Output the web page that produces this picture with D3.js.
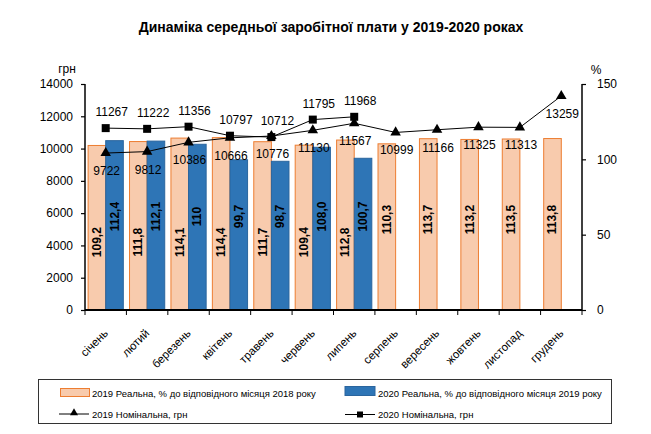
<!DOCTYPE html>
<html><head><meta charset="utf-8">
<script src="https://cdn.jsdelivr.net/npm/d3@7"></script>
<style>
html,body{margin:0;padding:0;background:#fff;}
svg{display:block;font-family:"Liberation Sans",Arial,sans-serif;}
</style></head>
<body><svg id="c" width="651" height="434"></svg>
<script>
const months = ["січень","лютий","березень","квітень","травень","червень","липень","серпень","вересень","жовтень","листопад","грудень"];
const real2019 = [109.2,111.8,114.1,114.4,111.7,109.4,112.8,110.3,113.7,113.2,113.5,113.8];
const real2019Labels = ["109,2","111,8","114,1","114,4","111,7","109,4","112,8","110,3","113,7","113,2","113,5","113,8"];
const real2020 = [112.4,112.1,110,99.7,98.7,108.0,100.7];
const real2020Labels = ["112,4","112,1","110","99,7","98,7","108,0","100,7"];
const nominal2019 = [9722,9812,10386,10666,10776,11130,11567,10999,11166,11325,11313,13259];
const nominal2020 = [11267,11222,11356,10797,10712,11795,11968];
const leftTicks = [0,2000,4000,6000,8000,10000,12000,14000];
const rightTicks = [0,50,100,150];
const title = "Динаміка середньої заробітної плати у 2019-2020 роках";
const legendLabels = ["2019 Реальна, % до відповідного місяця 2018 року","2020 Реальна, % до відповідного місяця 2019 року","2019 Номінальна, грн","2020 Номінальна, грн"];

const svg = d3.select("#c");
const L = 85, R = 582, T = 84, B = 310;
const x = d3.scaleBand().domain(months).range([L, R]).padding(0);
const yL = d3.scaleLinear().domain([0,14000]).range([B, T]);
const yR = d3.scaleLinear().domain([0,150]).range([B, T]);
const bw = x.bandwidth()*0.425;
const cx = m => x(m) + x.bandwidth()/2;

const pink = "#F8CBAD", pinkStroke = "#ED7D31", blue = "#2E75B6", blueStroke = "#2A659E";

// title
const t = svg.append("text").attr("x", 331).attr("y", 32).attr("text-anchor","middle")
  .attr("font-weight","bold").attr("font-size",15).text(title);
let fs = 15; while (t.node().getComputedTextLength() > 386 && fs > 8) { fs -= 0.25; t.attr("font-size", fs); }

// bars
svg.append("g").selectAll("rect").data(real2019).join("rect")
  .attr("x",(d,i)=>cx(months[i])-bw).attr("y",d=>yR(d)).attr("width",bw).attr("height",d=>B-yR(d))
  .attr("fill",pink).attr("stroke",pinkStroke).attr("stroke-width",1);
svg.append("g").selectAll("rect").data(real2020).join("rect")
  .attr("x",(d,i)=>cx(months[i])).attr("y",d=>yR(d)).attr("width",bw).attr("height",d=>B-yR(d))
  .attr("fill",blue).attr("stroke",blueStroke).attr("stroke-width",1);

// axes
const gl = svg.append("g").attr("transform",`translate(${L},0)`)
  .call(d3.axisLeft(yL).tickValues(leftTicks).tickSize(4).tickPadding(8).tickFormat(d3.format("d")));
const gr = svg.append("g").attr("transform",`translate(${R},0)`)
  .call(d3.axisRight(yR).tickValues(rightTicks).tickSize(4).tickPadding(11).tickFormat(d3.format("d")));
[gl,gr].forEach(g=>{
  g.select(".domain").attr("stroke","#000").attr("stroke-width",1.5).attr("d",`M0,${T}V${B}`);
  g.selectAll(".tick line").attr("stroke","#000").attr("stroke-width",1.2);
  g.selectAll(".tick text").attr("font-size",12).attr("font-family","Liberation Sans, Arial, sans-serif").attr("fill","#000");
});
svg.append("text").attr("x",67).attr("y",73).attr("text-anchor","middle").attr("font-size",12).text("грн");
svg.append("text").attr("x",596).attr("y",74).attr("text-anchor","middle").attr("font-size",12).text("%");

// x axis
svg.append("line").attr("x1",L).attr("x2",R).attr("y1",B).attr("y2",B).attr("stroke","#000").attr("stroke-width",1.8);
const bounds = months.map(m=>x(m)).concat([R]);
svg.append("g").selectAll("line").data(bounds).join("line")
  .attr("x1",d=>d).attr("x2",d=>d).attr("y1",B).attr("y2",B+5).attr("stroke","#000").attr("stroke-width",1);
svg.append("g").selectAll("text").data(months).join("text")
  .attr("transform",d=>`translate(${cx(d)+3},${B+24}) rotate(-45)`)
  .attr("text-anchor","end").attr("font-size",11.5).text(d=>d);

// lines
const lineGen = d3.line().x((d,i)=>cx(months[i])).y(d=>yL(d));
svg.append("path").attr("d",lineGen(nominal2019)).attr("fill","none").attr("stroke","#000").attr("stroke-width",1);
svg.append("path").attr("d",lineGen(nominal2020)).attr("fill","none").attr("stroke","#000").attr("stroke-width",1);
const tri = d3.symbol().type(d3.symbolTriangle).size(48);
const sq = d3.symbol().type(d3.symbolSquare).size(64);
svg.append("g").selectAll("path").data(nominal2019).join("path")
  .attr("transform",(d,i)=>`translate(${cx(months[i])},${yL(d)})`).attr("d",tri()).attr("fill","#000");
svg.append("g").selectAll("path").data(nominal2020).join("path")
  .attr("transform",(d,i)=>`translate(${cx(months[i])},${yL(d)})`).attr("d",sq()).attr("fill","#000");

// line labels
svg.append("g").selectAll("text").data(nominal2019).join("text")
  .attr("x",(d,i)=>cx(months[i])+1).attr("y",d=>yL(d)+22).attr("text-anchor","middle").attr("font-size",12).text(d=>d);
svg.append("g").selectAll("text").data(nominal2020).join("text")
  .attr("x",(d,i)=>cx(months[i])+6).attr("y",d=>yL(d)-12).attr("text-anchor","middle").attr("font-size",12).text(d=>d);

// bar labels
svg.append("g").selectAll("text").data(real2019Labels).join("text")
  .attr("transform",(d,i)=>`translate(${cx(months[i])-bw/2+4},${yR(i<real2020.length?45:60)}) rotate(-90)`)
  .attr("text-anchor","middle").attr("font-size",12).attr("font-weight","bold").text(d=>d);
svg.append("g").selectAll("text").data(real2020Labels).join("text")
  .attr("transform",(d,i)=>`translate(${cx(months[i])+bw/2+4},${yR(62)}) rotate(-90)`)
  .attr("text-anchor","middle").attr("font-size",12).attr("font-weight","bold").text(d=>d);

// legend
const lg = svg.append("g");
lg.append("rect").attr("x",38.5).attr("y",379.5).attr("width",573).attr("height",44).attr("fill","none").attr("stroke","#333").attr("stroke-width",1);
lg.append("rect").attr("x",60.5).attr("y",388.5).attr("width",29).attr("height",8).attr("fill",pink).attr("stroke",pinkStroke);
lg.append("rect").attr("x",345).attr("y",386.5).attr("width",30).attr("height",9).attr("fill",blue).attr("stroke",blueStroke);
lg.append("line").attr("x1",59).attr("x2",89).attr("y1",414).attr("y2",414).attr("stroke","#000");
lg.append("path").attr("transform","translate(74,413)").attr("d",d3.symbol().type(d3.symbolTriangle).size(28)()).attr("fill","#000");
lg.append("line").attr("x1",345).attr("x2",375).attr("y1",414.5).attr("y2",414.5).attr("stroke","#000");
lg.append("path").attr("transform","translate(360,414.5)").attr("d",d3.symbol().type(d3.symbolSquare).size(36)()).attr("fill","#000");
const lpos = [[92,397],[378,397],[92,417.5],[378,417.5]];
lg.selectAll("text.l").data(legendLabels).join("text").attr("class","l")
  .attr("x",(d,i)=>lpos[i][0]).attr("y",(d,i)=>lpos[i][1]).attr("font-size",9.5).text(d=>d);
</script></body></html>
